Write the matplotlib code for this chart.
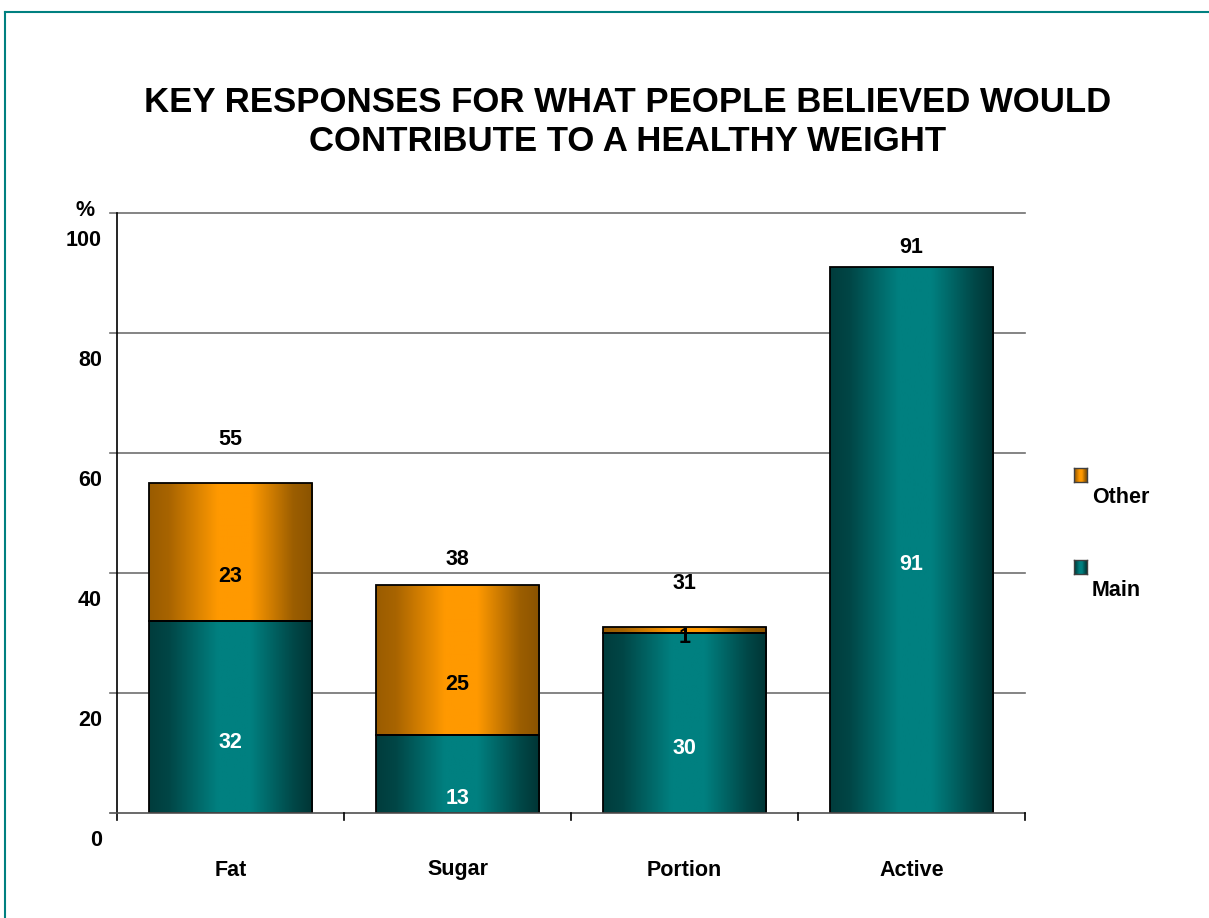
import numpy as np
import matplotlib
matplotlib.use("Agg")
import matplotlib.pyplot as plt
from matplotlib.colors import LinearSegmentedColormap
from matplotlib.patches import Rectangle
from matplotlib.lines import Line2D

plt.rcParams['font.family'] = ['Liberation Sans', 'DejaVu Sans']

categories = ["Fat", "Sugar", "Portion", "Active"]
main_vals = [32, 13, 30, 91]
other_vals = [23, 25, 1, 0]
totals = [55, 38, 31, 91]
y_ticks = [0, 20, 40, 60, 80, 100]
title = "KEY RESPONSES FOR WHAT PEOPLE BELIEVED WOULD\nCONTRIBUTE TO A HEALTHY WEIGHT"

W, H = 1209, 918
FS = 15.5
fig = plt.figure(figsize=(W / 100, H / 100), dpi=100)
ax = fig.add_axes([117 / W, 1 - 813 / H, (1025 - 117) / W, (813 - 213) / H])
ax.set_xlim(0, 4)
ax.set_ylim(0, 100)

teal_cmap = LinearSegmentedColormap.from_list(
    "teal", [(0, "#003c3c"), (0.12, "#004646"), (0.42, "#008080"), (0.62, "#008080"), (0.88, "#004848"), (1, "#003434")])
orange_cmap = LinearSegmentedColormap.from_list(
    "orange", [(0, "#9a5c00"), (0.12, "#a86400"), (0.42, "#ff9900"), (0.62, "#ff9900"), (0.88, "#9c5e00"), (1, "#8a5300")])
grad = np.linspace(0, 1, 256).reshape(1, -1)

xpx = 4 / 908.0   # data units per pixel on the x axis
px = 1 / 6.0      # data units per pixel on the y axis

# horizontal gridlines (grey) extending slightly left of the axis
for t in y_ticks[1:]:
    ax.plot([-7 * xpx, 4], [t, t], color="#707070", lw=1.2, clip_on=False, zorder=1)

bar_w = 0.72


def shaded_bar(x0, y0, w, h, cmap):
    if h <= 0:
        return
    ax.imshow(grad, cmap=cmap, aspect="auto", extent=(x0, x0 + w, y0, y0 + h),
              origin="lower", zorder=2, interpolation="bilinear")
    ax.add_patch(Rectangle((x0, y0), w, h, fill=False, edgecolor="black", lw=1.3, zorder=3))


for i, cat in enumerate(categories):
    x0 = i + (1 - bar_w) / 2
    xc = i + 0.5
    m, o = main_vals[i], other_vals[i]
    shaded_bar(x0, 0, bar_w, m, teal_cmap)
    shaded_bar(x0, m, bar_w, o, orange_cmap)
    ax.text(xc, m / 2 - 25 * px, str(m), ha="center", va="center", color="white",
            fontsize=FS, fontweight="bold", zorder=4)
    if o > 0:
        off = 25 * px if o > 3 else 1.2
        ax.text(xc, m + o / 2 - off, str(o), ha="center", va="center", color="black",
                fontsize=FS, fontweight="bold", zorder=4)

# total labels above each bar
total_offsets = [7.2, 4.2, 7.2, 3.2]
for i, tot in enumerate(totals):
    ax.text(i + 0.5, tot + total_offsets[i], str(tot), ha="center", va="center",
            fontsize=FS, fontweight="bold", color="black")

ax.set_xticks([])
ax.set_yticks([])
for s in ax.spines.values():
    s.set_visible(False)

# axis lines and ticks
ax.plot([0, 0], [-7 * px, 100], color="black", lw=1.2, clip_on=False, zorder=5)
ax.plot([-7 * xpx, 4], [0, 0], color="#505050", lw=1.2, clip_on=False, zorder=5)
for b in range(1, 5):
    ax.plot([b, b], [0, -7 * px], color="black", lw=1.2, clip_on=False, zorder=5)

# y tick labels sit a little below their gridlines
for t in y_ticks:
    ax.text(-15 * xpx, t - 27 * px, str(t), ha="right", va="center", fontsize=FS,
            fontweight="bold", clip_on=False)
ax.text(-32 * xpx, 100 + 2 * px, "%", ha="center", va="center", fontsize=FS,
        fontweight="bold", clip_on=False)

for i, cat in enumerate(categories):
    ax.text(i + 0.5, -57 * px, cat, ha="center", va="center", fontsize=FS,
            fontweight="bold", clip_on=False)

fig.text(628 / W, 1 - 122 / H, title, ha="center", va="center", fontsize=25,
         fontweight="bold", linespacing=1.2)

# legend
def legend_swatch(x, y, cmap):
    lax = fig.add_axes([x / W, 1 - (y + 14) / H, 13 / W, 14 / H])
    lax.imshow(grad, cmap=cmap, aspect="auto", extent=(0, 1, 0, 1), interpolation="bilinear")
    lax.set_xticks([]); lax.set_yticks([])
    for s in lax.spines.values():
        s.set_color("#404040"); s.set_linewidth(1)

legend_swatch(1074, 468, orange_cmap)
fig.text(1092 / W, 1 - 498 / H, "Other", ha="left", va="center", fontsize=FS, fontweight="bold")
legend_swatch(1074, 560, teal_cmap)
fig.text(1092 / W, 1 - 590 / H, "Main", ha="left", va="center", fontsize=FS, fontweight="bold")

# outer frame
fig.add_artist(Line2D([5 / W, 1], [1 - 12 / H, 1 - 12 / H], color="#008080", lw=1.5,
                      transform=fig.transFigure))
fig.add_artist(Line2D([5 / W, 5 / W], [0, 1 - 12 / H], color="#008080", lw=1.5,
                      transform=fig.transFigure))

fig.savefig("out.png", dpi=100, facecolor="white")
